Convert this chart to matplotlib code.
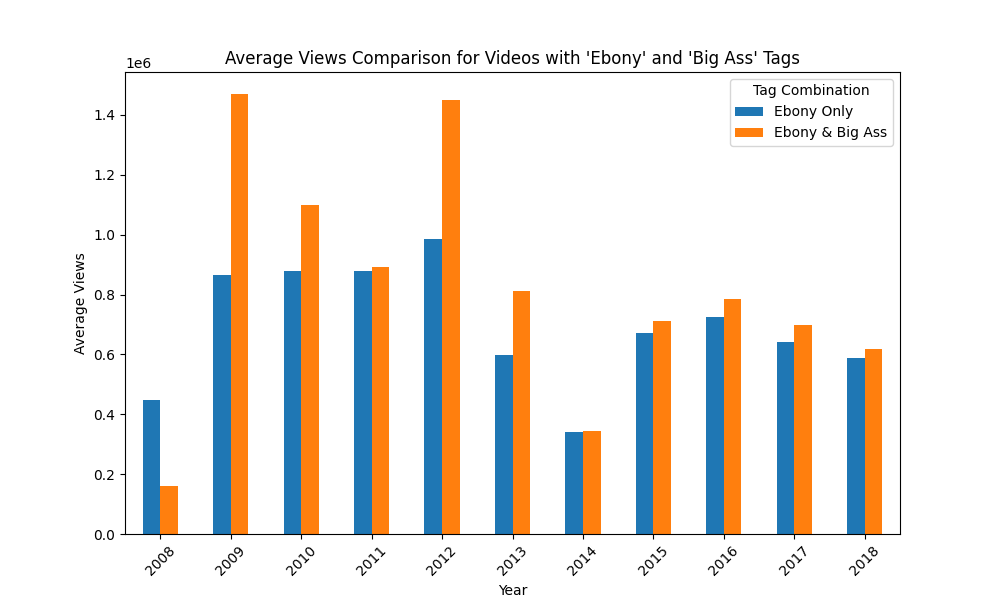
import pandas as pd
import matplotlib
matplotlib.use("Agg")
import matplotlib.pyplot as plt

years = [2008, 2009, 2010, 2011, 2012, 2013, 2014, 2015, 2016, 2017, 2018]
ebony_only = [448000, 865000, 879000, 879000, 986000, 598000, 341000, 672000, 725000, 641000, 588000]
ebony_big_ass = [160000, 1470000, 1099000, 892000, 1450000, 812000, 344000, 712000, 785000, 698000, 618000]

df = pd.DataFrame({"Ebony Only": ebony_only, "Ebony & Big Ass": ebony_big_ass}, index=years)

fig, ax = plt.subplots(figsize=(10, 6), dpi=100)
df.plot(kind="bar", ax=ax)
ax.set_title("Average Views Comparison for Videos with 'Ebony' and 'Big Ass' Tags")
ax.set_xlabel("Year")
ax.set_ylabel("Average Views")
plt.xticks(rotation=45)
ax.legend(title="Tag Combination")
fig.savefig("out.png")
